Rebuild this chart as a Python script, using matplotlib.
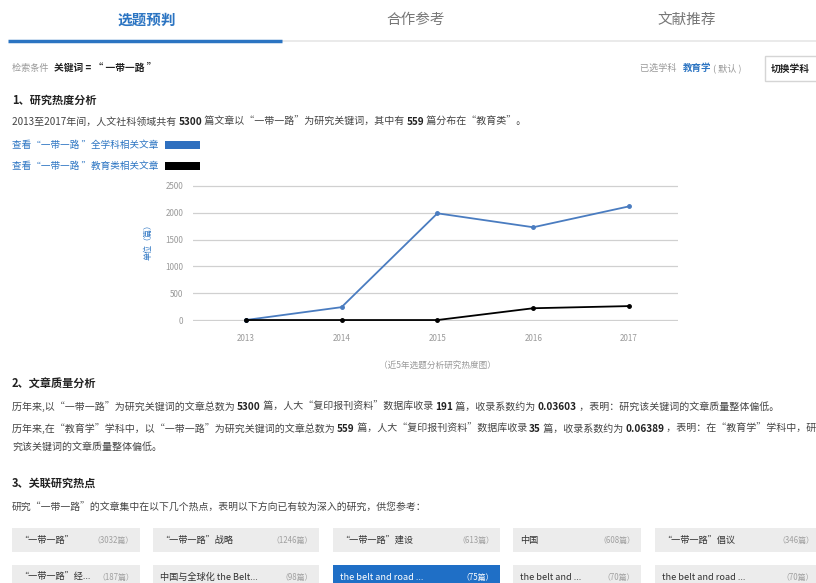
import matplotlib
matplotlib.use('Agg')
import matplotlib.pyplot as plt
from matplotlib.patches import Rectangle

plt.rcParams['font.family'] = ['Noto Sans CJK SC', 'DejaVu Sans']

# ---------------- data ----------------
years = [2013, 2014, 2015, 2016, 2017]
all_counts = [0, 240, 1990, 1730, 2120]
edu_counts = [0, 0, 0, 220, 260]
y_ticks = [0, 500, 1000, 1500, 2000, 2500]

tabs = ['选题预判', '合作参考', '文献推荐']

hot_topics = ['“一带一路”', '“一带一路”战略', '“一带一路”建设', '中国', '“一带一路”倡议',
              '“一带一路”经...', '中国与全球化 the Belt...', 'the belt and road ...',
              'the belt and ...', 'the belt and road ...']
hot_counts = [3032, 1246, 613, 608, 346, 187, 98, 75, 70, 70]
highlight = 7

# ---------------- colours ----------------
BLUE = '#2b74c2'
LINE_BLUE = '#4a7cc0'
TXT = '#444444'
DARK = '#222222'
GRAY = '#999999'

fig = plt.figure(figsize=(8.16, 5.83), dpi=100)
fig.patch.set_facecolor('white')
ov = fig.add_axes([0, 0, 1, 1])
ov.set_xlim(0, 816)
ov.set_ylim(583, 0)
ov.axis('off')
ov.patch.set_alpha(0)
renderer = fig.canvas.get_renderer()


def rich(x, y, segs, size=7.0):
    for s, color, weight in segs:
        t = ov.text(x, y, s, fontsize=size, color=color, fontweight=weight,
                    va='center', ha='left')
        x += t.get_window_extent(renderer).width
    return x


# ---------------- tabs ----------------
tab_x = [147, 416, 687]
for i, (name, tx) in enumerate(zip(tabs, tab_x)):
    ov.text(tx, 20, name, fontsize=10.5, ha='center', va='center',
            color=BLUE if i == 0 else '#777777', fontweight='bold' if i == 0 else 'normal')
ov.plot([282, 816], [41, 41], color='#e6e6e6', lw=1.2, solid_capstyle='butt')
ov.plot([8, 282], [41, 41], color=BLUE, lw=2.5, solid_capstyle='butt')

# ---------------- search condition ----------------
x = rich(12, 68, [('检索条件  ', GRAY, 'normal')], size=6.6)
rich(x + 2, 68, [('关键词 = “ 一带一路 ”', DARK, 'bold')], size=7)

x = rich(640, 68, [('已选学科   ', GRAY, 'normal')], size=6.6)
x = rich(x, 68, [('教育学', BLUE, 'bold')], size=6.8)
rich(x, 68, [(' ( 默认 )', GRAY, 'normal')], size=6.6)
ov.add_patch(Rectangle((765, 56), 60, 25, facecolor='white', edgecolor='#d5d5d5', lw=1))
ov.text(790, 68.5, '切换学科', fontsize=7, ha='center', va='center', color=DARK, fontweight='bold')

# ---------------- section 1 ----------------
ov.text(12, 100, '1、研究热度分析', fontsize=8, fontweight='bold', color=DARK, va='center')
rich(12, 122, [
    ('2013至2017年间，人文社科领域共有 ', TXT, 'normal'),
    ('5300', DARK, 'bold'),
    (' 篇文章以“一带一路”为研究关键词，其中有 ', TXT, 'normal'),
    ('559', DARK, 'bold'),
    (' 篇分布在“教育类”。', TXT, 'normal')], size=7.2)

rich(12, 145, [('查看“一带一路 ”全学科相关文章', BLUE, 'normal')], size=6.9)
rich(12, 166, [('查看“一带一路 ”教育类相关文章', BLUE, 'normal')], size=6.9)
ov.add_patch(Rectangle((165, 141), 35, 8, facecolor='#2e6fbf', edgecolor='none'))
ov.add_patch(Rectangle((165, 162), 35, 8, facecolor='black', edgecolor='none'))

# ---------------- chart ----------------
chart = fig.add_axes([193 / 816, 1 - 321 / 583, 485 / 816, 136 / 583])
chart.patch.set_alpha(0)
chart.plot(years, all_counts, color=LINE_BLUE, lw=1.3, marker='o', ms=2.5, clip_on=False, zorder=3)
chart.plot(years, edu_counts, color='black', lw=1.3, marker='o', ms=2.5, clip_on=False, zorder=4)
chart.set_xlim(2012.45, 2017.51)
chart.set_ylim(-18, 2518)
chart.set_yticks(y_ticks)
chart.set_xticks(years)
chart.yaxis.grid(True, color='#d0d0d0', lw=0.9)
chart.set_axisbelow(True)
for s in chart.spines.values():
    s.set_visible(False)
chart.tick_params(length=0, labelsize=5.8, labelcolor=GRAY)
chart.tick_params(axis='y', pad=7)
chart.tick_params(axis='x', pad=9)
ov.text(148, 240, '单位（篇）', rotation=90, fontsize=5.8, color=BLUE, ha='center', va='center')
ov.text(437, 365, '（近5年选题分析研究热度图）', fontsize=6.2, color=GRAY, ha='center', va='center')

# ---------------- section 2 ----------------
ov.text(12, 384, '2、文章质量分析', fontsize=8, fontweight='bold', color=DARK, va='center')
rich(12, 407, [
    ('历年来,以“一带一路”为研究关键词的文章总数为 ', TXT, 'normal'),
    ('5300', DARK, 'bold'),
    (' 篇，人大“复印报刊资料”数据库收录 ', TXT, 'normal'),
    ('191', DARK, 'bold'),
    (' 篇，收录系数约为 ', TXT, 'normal'),
    ('0.03603', DARK, 'bold'),
    (' ，表明：研究该关键词的文章质量整体偏低。', TXT, 'normal')], size=7.2)
rich(12, 429, [
    ('历年来,在“教育学”学科中，以“一带一路”为研究关键词的文章总数为 ', TXT, 'normal'),
    ('559', DARK, 'bold'),
    (' 篇，人大“复印报刊资料”数据库收录 ', TXT, 'normal'),
    ('35', DARK, 'bold'),
    (' 篇，收录系数约为 ', TXT, 'normal'),
    ('0.06389', DARK, 'bold'),
    (' ，表明：在“教育学”学科中，研', TXT, 'normal')], size=7.2)
rich(12, 447, [('究该关键词的文章质量整体偏低。', TXT, 'normal')], size=7.2)

# ---------------- section 3 ----------------
ov.text(12, 483, '3、关联研究热点', fontsize=8, fontweight='bold', color=DARK, va='center')
rich(12, 508, [('研究“一带一路”的文章集中在以下几个热点，表明以下方向已有较为深入的研究，供您参考：',
                TXT, 'normal')], size=7.1)

box_x = [12, 153, 333, 513, 655]
box_w = [128, 166, 167, 128, 165]
row_y = [528, 565]
box_h = 24
for i, (name, cnt) in enumerate(zip(hot_topics, hot_counts)):
    r, c = divmod(i, 5)
    bx, by, bw = box_x[c], row_y[r], box_w[c]
    hl = (i == highlight)
    ov.add_patch(Rectangle((bx, by), bw, box_h, facecolor='#1f6fc6' if hl else '#ececec',
                           edgecolor='none'))
    ov.text(bx + 7, by + box_h / 2, name, fontsize=6.6, color='white' if hl else '#333333',
            ha='left', va='center')
    ov.text(bx + bw - 6, by + box_h / 2, f'（{cnt}篇）', fontsize=5.7,
            color='white' if hl else '#a0a0a0', ha='right', va='center')

fig.savefig('out.png', dpi=100, facecolor='white')
